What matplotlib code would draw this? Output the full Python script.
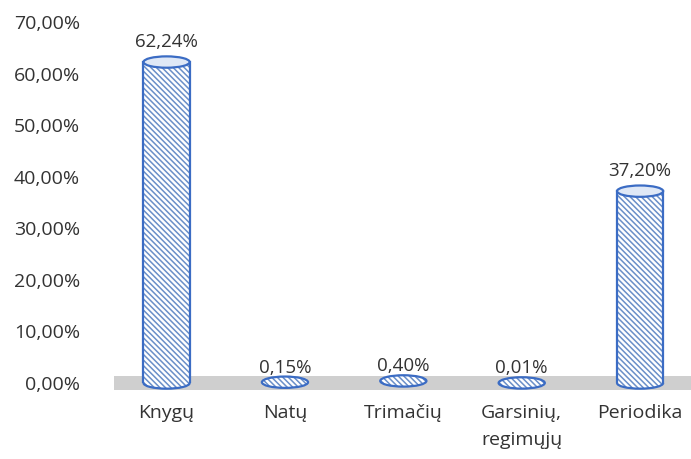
import matplotlib
matplotlib.use("Agg")
import matplotlib.pyplot as plt
from matplotlib.patches import Rectangle, Ellipse, Arc

categories = ["Knygų", "Natų", "Trimačių", "Garsinių,\nregimųjų", "Periodika"]
values = [62.24, 0.15, 0.40, 0.01, 37.20]
value_labels = ["62,24%", "0,15%", "0,40%", "0,01%", "37,20%"]
yticks = [0, 10, 20, 30, 40, 50, 60, 70]
ytick_labels = ["0,00%", "10,00%", "20,00%", "30,00%", "40,00%", "50,00%", "60,00%", "70,00%"]

plt.rcParams['font.family'] = ['Open Sans', 'DejaVu Sans']
plt.rcParams['hatch.linewidth'] = 1.1

edge = "#3b6cc4"
hatch_col = "#6a8fc8"
text_col = "#333333"

fig = plt.figure(figsize=(6.91, 4.59), dpi=100)
ax = fig.add_axes([0.14, 0.1656, 0.86, 0.7864])
ax.set_xlim(-0.59, 4.43)
ax.set_ylim(0, 70)

w = 0.39      # cylinder width (x units)
eh = 2.2      # ellipse height (y units)
hatch = "\\\\\\\\\\\\"

# grey floor
ax.add_patch(Rectangle((-0.44, -1.3), 5.0, 2.6, facecolor="#cfcfcf",
                       edgecolor="none", zorder=1, clip_on=False))

for i, v in enumerate(values):
    if v >= 1:
        # body
        ax.add_patch(Ellipse((i, 0), w, eh, facecolor="white", edgecolor=hatch_col,
                             hatch=hatch, lw=0, zorder=2, clip_on=False))
        ax.add_patch(Rectangle((i - w / 2, 0), w, v, facecolor="white", edgecolor=hatch_col,
                               hatch=hatch, lw=0, zorder=2, clip_on=False))
        ax.add_patch(Arc((i, 0), w, eh, theta1=180, theta2=360, color=edge, lw=1.6,
                         zorder=3, clip_on=False))
        ax.plot([i - w / 2, i - w / 2], [0, v], color=edge, lw=1.6, zorder=3)
        ax.plot([i + w / 2, i + w / 2], [0, v], color=edge, lw=1.6, zorder=3)
        ax.add_patch(Ellipse((i, v), w, eh, facecolor="#dfe8f6", edgecolor=edge,
                             lw=1.6, zorder=4, clip_on=False))
        off = 8
    else:
        ax.add_patch(Ellipse((i, v), w, eh, facecolor="white", edgecolor=hatch_col,
                             hatch=hatch, lw=0, zorder=2, clip_on=False))
        ax.add_patch(Ellipse((i, v), w, eh, facecolor="none", edgecolor=edge,
                             lw=1.6, zorder=3, clip_on=False))
        off = 4
    ax.annotate(value_labels[i], (i, v), xytext=(0, off), textcoords="offset points",
                ha="center", va="bottom", fontsize=13.5, color=text_col)

ax.set_yticks(yticks)
ax.set_yticklabels(ytick_labels)
ax.set_xticks(range(len(categories)))
ax.set_xticklabels(categories, linespacing=1.65)
ax.tick_params(axis="both", length=0, labelsize=14, labelcolor=text_col)
ax.tick_params(axis="x", pad=15)
ax.tick_params(axis="y", pad=12)
for s in ax.spines.values():
    s.set_visible(False)

fig.savefig("out.png", dpi=100)
